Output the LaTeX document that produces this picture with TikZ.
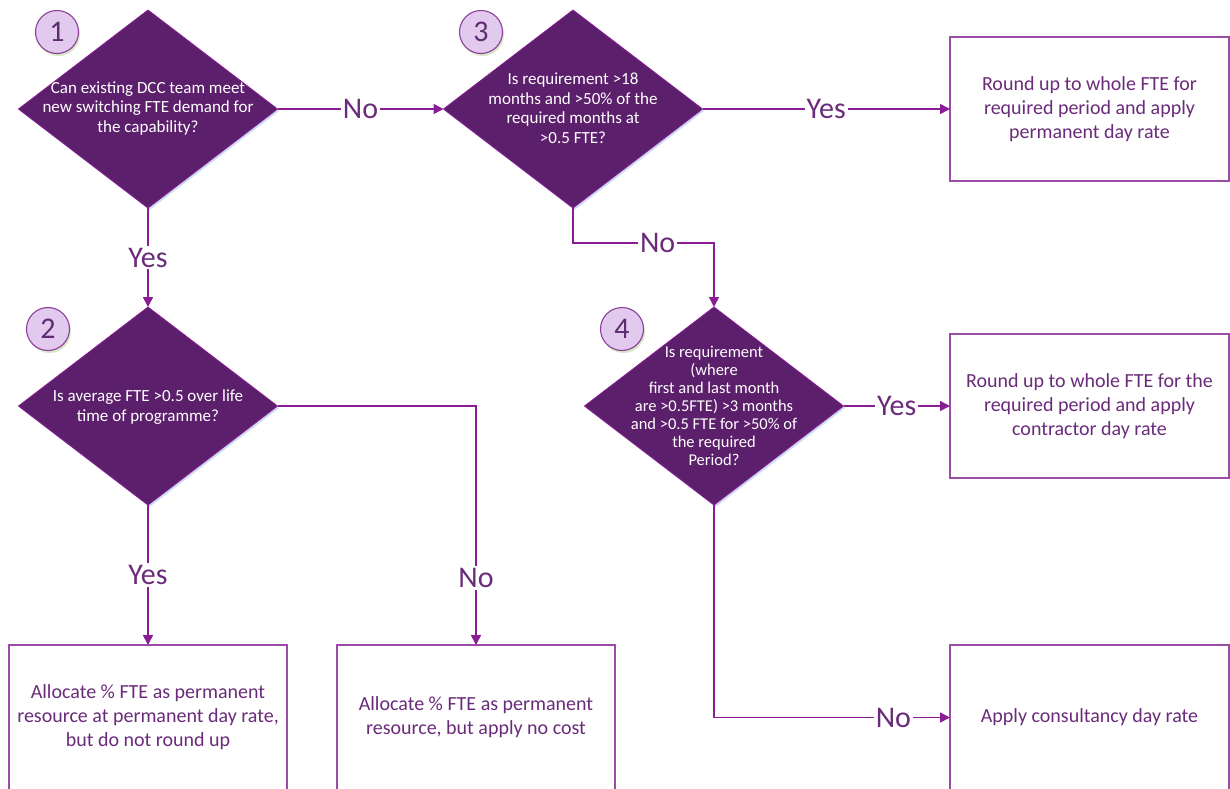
\documentclass[tikz,border=0pt]{standalone}
\usepackage{fontspec}
\setmainfont{Carlito}
\usetikzlibrary{arrows.meta,shapes.geometric,shadows}
\definecolor{decfill}{HTML}{5C1F6B}
\definecolor{linepurple}{HTML}{8A1C95}
\definecolor{boxline}{HTML}{9A4CA6}
\definecolor{boxtext}{HTML}{6A2C7A}
\definecolor{numfill}{HTML}{E2CAEE}
\definecolor{numline}{HTML}{8C3C9C}
\definecolor{numtext}{HTML}{5E2C70}
\definecolor{shadeblue}{HTML}{C9DDF0}
\definecolor{shadegreen}{HTML}{D6E8C4}
\tikzset{
  decision/.style={diamond, draw=linepurple, line width=0.8pt, fill=decfill,
    minimum width=259pt, minimum height=198pt, inner sep=0pt, outer sep=0pt,
    aspect=1.31,
    drop shadow={shadow xshift=1.5pt, shadow yshift=-2pt, fill=shadeblue, opacity=1}},
  dectext/.style={text=white, align=center,
    font=\fontsize{17pt}{19.5pt}\selectfont},
  outcome/.style={rectangle, draw=boxline, line width=1.3pt, fill=white,
    minimum width=279pt, minimum height=144pt, inner sep=0pt, outer sep=0pt,
    text=boxtext, align=center, font=\fontsize{20pt}{24pt}\selectfont},
  stepnum/.style={circle, draw=numline, line width=1.1pt, fill=numfill,
    minimum size=43pt, inner sep=0pt, text=numtext,
    font=\fontsize{30pt}{32pt}\selectfont,
    drop shadow={shadow xshift=1.5pt, shadow yshift=-2.5pt, fill=shadegreen, opacity=1}},
  flow/.style={draw=linepurple, line width=1.6pt,
    -{Triangle[length=10pt,width=10pt]}},
  lab/.style={fill=white, inner sep=2pt, text=boxtext,
    font=\fontsize{30pt}{32pt}\selectfont}
}
\begin{document}
\begin{tikzpicture}[x=1pt,y=-1pt]
\useasboundingbox (0,0) rectangle (1230,788);
\begin{scope}
\clip (0,0) rectangle (1230,788);

% decisions
\node[decision] (d1) at (148,109) {};
\node[decision] (d3) at (573,109) {};
\node[decision] (d2) at (148,406) {};
\node[decision] (d4) at (714,406) {};

\node[dectext] (t1) at (148,108) {Can existing DCC team meet\\new switching FTE demand for\\the capability?};
\node[dectext] (t3) at (573,108) {Is requirement >18\\months and >50\% of the\\required months at\\>0.5 FTE?};
\node[dectext] (t2) at (148,407) {Is average FTE >0.5 over life\\time of programme?};
\node[dectext, font=\fontsize{16.5pt}{18pt}\selectfont] (t4) at (714,406) {Is requirement\\(where\\first and last month\\are >0.5FTE) >3 months\\and >0.5 FTE for >50\% of\\the required\\Period?};

% step numbers
\node[stepnum] (n1) at (57,32) {1};
\node[stepnum] (n3) at (481,32) {3};
\node[stepnum] (n2) at (48,329) {2};
\node[stepnum] (n4) at (622,329) {4};

% outcomes
\node[outcome] (b1) at (1089.5,109) {Round up to whole FTE for\\required period and apply\\permanent day rate};
\node[outcome] (b2) at (1089.5,406) {Round up to whole FTE for the\\required period and apply\\contractor day rate};
\node[outcome, minimum height=145pt] (b3) at (1089.5,717.5) {Apply consultancy day rate};
\node[outcome, minimum height=145pt, minimum width=278pt] (b4) at (148,717.5) {Allocate \% FTE as permanent\\resource at permanent day rate,\\but do not round up};
\node[outcome, minimum height=145pt, minimum width=278pt] (b5) at (476,717.5) {Allocate \% FTE as permanent\\resource, but apply no cost};

% connectors
\coordinate (k34) at (714,243);
\draw[flow] (d1.east) -- node[lab] {No} (d3.west);
\draw[flow] (d1.south) -- node[lab] {Yes} (d2.north);
\draw[flow] (d3.east) -- node[lab] {Yes} (b1.west);
\draw[flow] (d3.south) |- node[lab, pos=0.8] {No} (k34) -- (d4.north);
\draw[flow] (d4.east) -- node[lab] {Yes} (b2.west);
\draw[flow] (d4.south) |- node[lab, pos=0.88] {No} (b3.west);
\draw[flow] (d2.south) -- node[lab] {Yes} (b4.north);
\draw[flow] (d2.east) -| node[lab, pos=0.86] {No} (b5.north);
\end{scope}
\end{tikzpicture}
\end{document}
